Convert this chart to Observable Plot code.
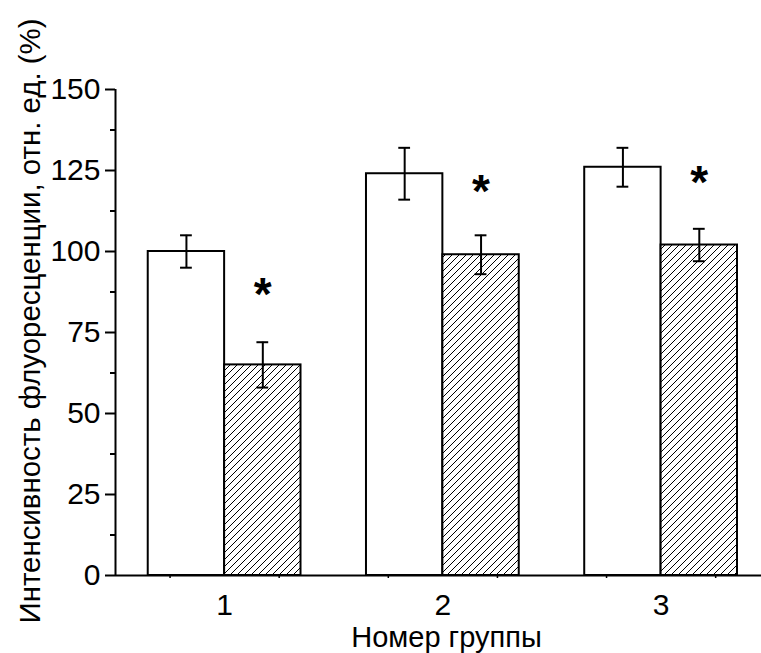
<!DOCTYPE html>
<html><head><meta charset="utf-8">
<script src="https://cdn.jsdelivr.net/npm/d3@7"></script>
<script src="https://cdn.jsdelivr.net/npm/@observablehq/plot@0.6"></script>
<style>body{margin:0;background:#fff;} #chart{width:761px;height:653px;overflow:hidden}</style>
</head><body><div id="chart"></div>
<script>
const groups = [1, 2, 3];
const controlValues = [100, 124, 126];
const controlErrors = [5, 8, 6];
const treatedValues = [65, 99, 102];
const treatedErrors = [7, 6, 5];
const asteriskValues = [88.6, 120.4, 123.1];
const yTicks = [0, 25, 50, 75, 100, 125, 150];
const yMinorTicks = [12.5, 37.5, 62.5, 87.5, 112.5, 137.5];
const xMinorTicks = [0.75, 1.25, 1.75, 2.25, 2.75, 3.25];
const yTitle = "Интенсивность флуоресценции, отн. ед. (%)";
const xTitle = "Номер группы";

const W = 0.35;   // bar width in group units
const CAP = 0.027;
const font = "'Liberation Sans', Arial, sans-serif";

const control = groups.map((g, i) => ({g, x1: g - W, x2: g, xc: g - W / 2, value: controlValues[i], lo: controlValues[i] - controlErrors[i], hi: controlValues[i] + controlErrors[i]}));
const treated = groups.map((g, i) => ({g, x1: g, x2: g + W, xc: g + W / 2, value: treatedValues[i], lo: treatedValues[i] - treatedErrors[i], hi: treatedValues[i] + treatedErrors[i]}));
const errs = control.concat(treated);
const stars = groups.map((g, i) => ({xc: g + W / 2, value: asteriskValues[i]}));

const plot = Plot.plot({
  width: 761, height: 653,
  marginLeft: 115, marginRight: 0, marginTop: 89, marginBottom: 78,
  style: {fontFamily: font, background: "white", color: "black"},
  x: {domain: [0.5, 3.46], axis: null},
  y: {domain: [0, 150], axis: null},
  marks: [
    Plot.rectY(control, {x1: "x1", x2: "x2", y1: 0, y2: "value", fill: "white", stroke: "black", strokeWidth: 2}),
    Plot.rectY(treated, {x1: "x1", x2: "x2", y1: 0, y2: "value", fill: "url(#hatch)", stroke: "black", strokeWidth: 2}),
    Plot.ruleX(errs, {x: "xc", y1: "lo", y2: "hi", stroke: "black", strokeWidth: 2}),
    Plot.ruleY(errs, {y: "hi", x1: d => d.xc - CAP, x2: d => d.xc + CAP, stroke: "black", strokeWidth: 2}),
    Plot.ruleY(errs, {y: "lo", x1: d => d.xc - CAP, x2: d => d.xc + CAP, stroke: "black", strokeWidth: 2}),
    Plot.text(stars, {x: "xc", y: "value", text: () => "*", fontSize: 46, fontWeight: "bold", dy: 7, fill: "black"}),
    Plot.ruleY([0], {stroke: "black", strokeWidth: 2}),
    Plot.ruleX([0.5], {y1: 0, y2: 150, stroke: "black", strokeWidth: 2}),
    Plot.axisY(yTicks, {tickSize: 10, tickPadding: 5, fontSize: 30, strokeWidth: 2, label: null, fill: "black", tickFormat: d => String(d)}),
    Plot.axisY(yMinorTicks, {tickSize: 5, tickFormat: () => "", strokeWidth: 2, label: null}),
    Plot.axisX(groups, {tickSize: 0, tickPadding: 18, fontSize: 30, label: null, fill: "black", tickFormat: d => String(d)}),
    Plot.axisX(xMinorTicks, {tickSize: 3, tickFormat: () => "", strokeWidth: 1.5, label: null}),
    Plot.text([xTitle], {frameAnchor: "bottom", dx: 8, dy: 62.7, lineAnchor: "middle", textAnchor: "middle", fontSize: 29, fill: "black"}),
    Plot.text([yTitle], {frameAnchor: "left", rotate: -90, dx: -84.5, dy: -11.5, lineAnchor: "middle", textAnchor: "middle", fontSize: 29, fill: "black", className: "ytitle"})
  ]
});

const defs = d3.select(plot).insert("defs", ":first-child");
const pat = defs.append("pattern").attr("id", "hatch").attr("patternUnits", "userSpaceOnUse").attr("width", 7).attr("height", 7);
pat.append("rect").attr("width", 7).attr("height", 7).attr("fill", "white");
pat.append("path").attr("d", "M0,7 L7,0 M-1,1 L1,-1 M6,8 L8,6").attr("stroke", "black").attr("stroke-width", 1);

const svg = d3.select(plot);
svg.selectAll(".ytitle text").attr("textLength", 605).attr("lengthAdjust", "spacingAndGlyphs");
svg.selectAll('[aria-label="y-axis tick label"], [aria-label="x-axis tick label"]').attr("font-size", 30);
svg.selectAll('[aria-label="y-axis tick label"] text, [aria-label="x-axis tick label"] text').style("font-size", "30px");

document.getElementById("chart").appendChild(plot);
</script>
</body></html>
